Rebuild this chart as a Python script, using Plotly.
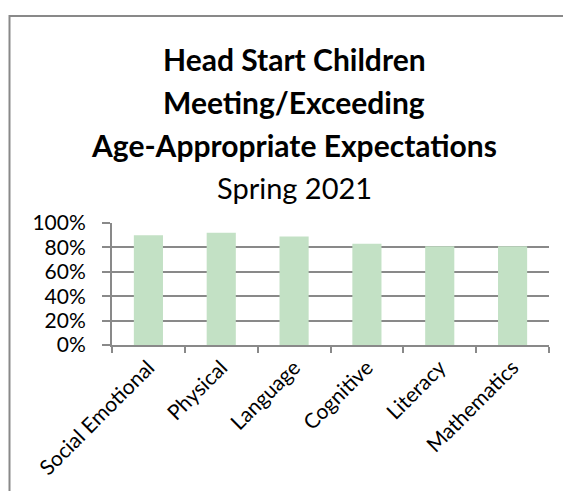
import plotly.graph_objects as go

categories = ["Social Emotional", "Physical", "Language", "Cognitive", "Literacy", "Mathematics"]
values = [0.90, 0.92, 0.89, 0.83, 0.81, 0.81]
title_lines = ["Head Start Children", "Meeting/Exceeding", "Age-Appropriate Expectations"]
subtitle = "Spring 2021"

W, H = 563, 491
L, R, T, B = 112, 14, 223, 144
PH = H - T - B
PW = W - L - R

def py(ypx):
    return (H - B - ypx) / PH

def px(xpx):
    return (xpx - L) / PW

FONT = "Lato"
GRAY = "#898989"

fig = go.Figure(go.Bar(
    x=categories, y=values,
    marker=dict(color="#C3E1C5", line=dict(width=0)),
    width=0.4,
))

fig.update_layout(
    width=W, height=H,
    margin=dict(l=L, r=R, t=T, b=B, pad=0),
    paper_bgcolor="white", plot_bgcolor="white",
    showlegend=False,
    font=dict(family=FONT, color="black", size=22),
)

fig.update_xaxes(
    type="category", showline=True, linecolor=GRAY, linewidth=2,
    ticks="outside", tickson="boundaries", ticklen=6, tickwidth=2, tickcolor=GRAY,
    tickangle=-45, tickfont=dict(family=FONT, size=21, color="black"),
    showgrid=False,
)
fig.update_yaxes(
    range=[0, 1], dtick=0.2, tickformat=".0%",
    showline=True, linecolor=GRAY, linewidth=2,
    ticks="outside", ticklen=8, tickwidth=2, tickcolor=GRAY,
    showgrid=True, gridcolor=GRAY, gridwidth=2, zeroline=False,
    tickfont=dict(family=FONT, size=21, color="black"),
    ticklabelstandoff=12,
)

cx = px(294)
centers = [56, 100, 144]
for txt, c in zip(title_lines, centers):
    fig.add_annotation(text="<b>" + txt + "</b>", x=cx, y=py(c), xref="paper", yref="paper",
                       xanchor="center", yanchor="middle", showarrow=False,
                       font=dict(family=FONT, size=30, color="black"))
fig.add_annotation(text=subtitle, x=cx, y=py(187), xref="paper", yref="paper",
                   xanchor="center", yanchor="middle", showarrow=False,
                   font=dict(family=FONT, size=29, color="black"))

fig.add_shape(type="rect", xref="paper", yref="paper",
              x0=px(9.5), x1=px(620), y0=py(12.5), y1=py(560),
              line=dict(color=GRAY, width=2), fillcolor="rgba(0,0,0,0)", layer="below")

fig.write_html("out.html", config={"displayModeBar": False},
               post_script="document.body.style.margin='0';document.body.style.overflow='hidden';")
